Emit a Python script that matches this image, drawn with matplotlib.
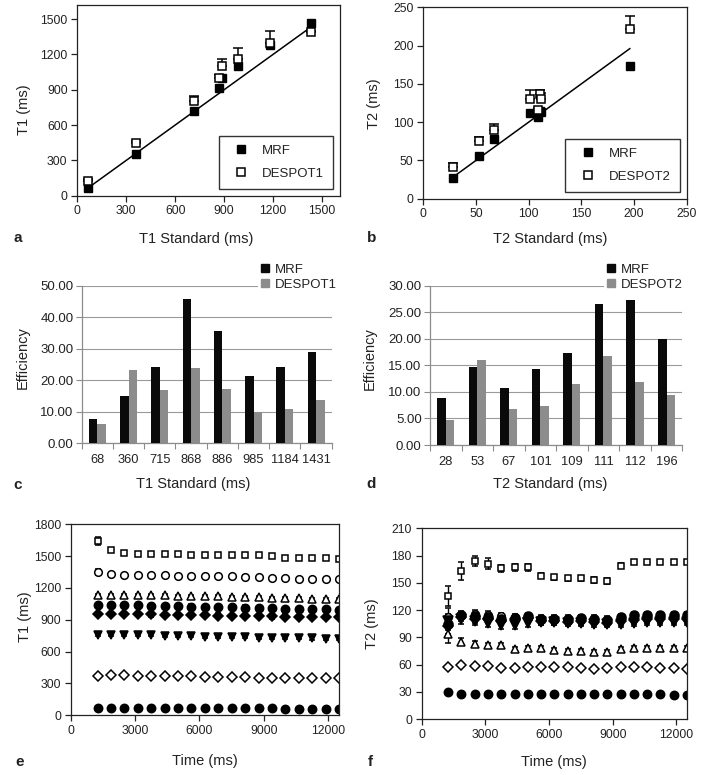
import matplotlib
matplotlib.use('Agg')
import matplotlib.pyplot as plt
from matplotlib.lines import Line2D
from matplotlib.patches import Patch
import numpy as np

plt.rcParams['font.family'] = ['Liberation Sans', 'DejaVu Sans']

W, H = 708, 775

# --- panel a / b : measured vs standard ---
t1_std = [68, 360, 715, 868, 886, 985, 1184, 1431]
t1_mrf = [65, 356, 720, 918, 1000, 1100, 1280, 1470]
t1_mrf_err = [15, 15, 15, 15, 15, 15, 15, 12]
t1_despot = [125, 450, 808, 1003, 1100, 1158, 1295, 1390]
t1_despot_err = [20, 15, 42, 25, 60, 100, 105, 10]

t2_std = [28, 53, 67, 101, 109, 111, 112, 196]
t2_mrf = [27, 56, 78, 112, 107, 115, 113, 173]
t2_mrf_err = [2, 2, 2, 2, 2, 2, 2, 2]
t2_despot = [42, 76, 90, 130, 116, 137, 130, 222]
t2_despot_err = [5, 5, 8, 12, 3, 5, 8, 16]

# --- panel c / d : efficiency ---
t1_labels = ['68', '360', '715', '868', '886', '985', '1184', '1431']
eff_t1_mrf = [7.6, 15.0, 24.2, 45.7, 35.6, 21.2, 24.3, 28.9]
eff_t1_despot = [6.2, 23.3, 16.8, 24.0, 17.2, 9.9, 10.9, 13.7]
t2_labels = ['28', '53', '67', '101', '109', '111', '112', '196']
eff_t2_mrf = [8.9, 14.6, 10.8, 14.3, 17.4, 26.5, 27.4, 19.9]
eff_t2_despot = [4.7, 16.0, 6.7, 7.4, 11.5, 16.7, 11.8, 9.5]

# --- panel e / f : estimates vs acquisition time ---
times = [1250, 1875, 2500, 3125, 3750, 4375, 5000, 5625, 6250, 6875,
         7500, 8125, 8750, 9375, 10000, 10625, 11250, 11875, 12500]

e_sq = [1645, 1555, 1525, 1520, 1520, 1520, 1518, 1515, 1515, 1515,
        1512, 1512, 1510, 1500, 1485, 1480, 1478, 1478, 1475]
e_sq_err = [40, 12, 10, 10, 10, 10, 10, 10, 10, 10,
            10, 10, 10, 10, 10, 10, 10, 10, 10]
e_oc = [1350, 1330, 1320, 1318, 1318, 1318, 1315, 1315, 1313, 1312,
        1310, 1308, 1305, 1295, 1290, 1288, 1286, 1285, 1283]
e_oc_err = [25, 10, 10, 10, 10, 10, 10, 10, 10, 10,
            10, 10, 10, 10, 10, 10, 10, 10, 10]
e_ot = [1135, 1135, 1135, 1133, 1132, 1130, 1128, 1125, 1122, 1120,
        1118, 1115, 1112, 1108, 1105, 1103, 1100, 1100, 1098]
e_fc = [1040, 1038, 1036, 1035, 1033, 1030, 1028, 1025, 1022, 1020,
        1018, 1015, 1012, 1008, 1005, 1002, 1000, 998, 995]
e_fd = [955, 955, 953, 952, 950, 948, 946, 944, 942, 940,
        938, 936, 934, 932, 930, 928, 926, 925, 924]
e_fv = [758, 758, 757, 756, 755, 752, 750, 745, 742, 740,
        738, 735, 732, 730, 728, 726, 724, 723, 722]
e_od = [375, 376, 376, 375, 374, 372, 368, 366, 364, 362,
        360, 358, 356, 354, 352, 350, 350, 349, 348]
e_fh = [72, 71, 70, 70, 69, 69, 68, 68, 67, 67,
        66, 66, 65, 65, 64, 64, 63, 63, 62]

f_sq = [135, 163, 174, 171, 166, 167, 167, 158, 156, 155,
        155, 153, 152, 169, 173, 173, 173, 173, 173]
f_sq_err = [11, 10, 6, 6, 4, 4, 4, 3, 3, 3,
            3, 3, 3, 3, 2, 2, 2, 2, 2]
f_fv = [108, 110, 108, 106, 104, 104, 106, 107, 107, 106,
        106, 105, 105, 105, 106, 107, 107, 107, 107]
f_fv_err = [14, 5, 5, 5, 5, 5, 5, 4, 4, 4,
            4, 4, 4, 4, 4, 4, 4, 4, 4]
f_fd = [102, 112, 110, 110, 108, 110, 111, 108, 108, 107,
        108, 107, 106, 108, 109, 110, 110, 110, 110]
f_fc = [105, 115, 113, 112, 110, 111, 113, 110, 110, 110,
        111, 110, 109, 112, 114, 114, 114, 114, 114]
f_oc = [112, 114, 116, 115, 113, 112, 111, 109, 109, 108,
        109, 108, 107, 111, 113, 113, 113, 113, 113]
f_ot = [94, 85, 83, 81, 81, 77, 78, 78, 76, 75,
        75, 74, 74, 77, 78, 78, 78, 78, 78]
f_ot_err = [10, 4, 3, 3, 3, 2, 2, 2, 2, 2,
            2, 2, 2, 2, 2, 2, 2, 2, 2]
f_od = [57, 59, 58, 58, 56, 56, 57, 57, 57, 57,
        56, 55, 56, 57, 57, 57, 56, 56, 55]
f_fh = [30, 28, 28, 28, 28, 28, 28, 28, 28, 28,
        28, 28, 28, 27, 27, 27, 27, 26, 26]

TXT = '#222222'
GRAY = '#8c8c8c'

fig = plt.figure(figsize=(W / 100, H / 100), dpi=100)


def add_ax(l, t, r, b):
    return fig.add_axes([l / W, 1 - b / H, (r - l) / W, (b - t) / H])


def ftext(x, y, s, **kw):
    kw.setdefault('ha', 'center')
    kw.setdefault('va', 'center')
    kw.setdefault('color', TXT)
    fig.text(x / W, 1 - y / H, s, **kw)


def box_style(ax):
    for sp in ax.spines.values():
        sp.set_linewidth(0.9)
        sp.set_color('#222222')
    ax.tick_params(direction='out', length=4, width=0.9, labelsize=8.8,
                   colors='#222222', labelcolor=TXT, pad=3)


def scatter_panel(ax, x, mrf, mrf_err, desp, desp_err, lim, ticks, lbl):
    ax.plot([x[0], x[-1]], [x[0], x[-1]], color='k', lw=1.1, zorder=1)
    ax.errorbar(x, mrf, yerr=mrf_err, fmt='s', color='k', ms=6,
                capsize=3, elinewidth=1, capthick=1.2, zorder=3)
    lo = np.zeros(len(desp))
    ax.errorbar(x, desp, yerr=[lo, desp_err], fmt='s', color='k', mfc='white',
                mec='k', mew=1.1, ms=6, capsize=3.5, elinewidth=1.1,
                capthick=1.3, zorder=4)
    ax.set_xlim(0, lim[0])
    ax.set_ylim(0, lim[1])
    ax.set_xticks(ticks)
    ax.set_yticks(ticks)
    box_style(ax)
    hs = [Line2D([], [], ls='none', marker='s', color='k', ms=6),
          Line2D([], [], ls='none', marker='s', mfc='white', mec='k', mew=1.1, ms=6)]
    leg = ax.legend(hs, ['MRF', lbl], loc='lower right', fontsize=9.5,
                    frameon=True, fancybox=False, edgecolor='k',
                    borderpad=0.7, handlelength=2.0, handletextpad=0.6,
                    labelspacing=0.8, borderaxespad=0.5)
    leg.get_frame().set_linewidth(1.0)
    for t in leg.get_texts():
        t.set_color(TXT)


# panel a
ax_a = add_ax(77.3, 4.9, 340, 195.7)
scatter_panel(ax_a, t1_std, t1_mrf, t1_mrf_err, t1_despot, t1_despot_err,
              (1610, 1620), [0, 300, 600, 900, 1200, 1500], 'DESPOT1')
ftext(196, 239, 'T1 Standard (ms)', fontsize=10.5)
ftext(24, 110, 'T1 (ms)', fontsize=10.5, rotation=90)
ftext(18, 238, 'a', fontsize=11, fontweight='bold')

# panel b
ax_b = add_ax(423.3, 7.3, 686.7, 198.7)
scatter_panel(ax_b, t2_std, t2_mrf, t2_mrf_err, t2_despot, t2_despot_err,
              (250, 250), [0, 50, 100, 150, 200, 250], 'DESPOT2')
ftext(550, 239, 'T2 Standard (ms)', fontsize=10.5)
ftext(374, 104, 'T2 (ms)', fontsize=10.5, rotation=90)
ftext(372, 238, 'b', fontsize=11, fontweight='bold')


def bar_panel(ax, labels, mrf, desp, top, step, lbl, leg_xy):
    x = np.arange(len(labels))
    w = 0.27
    ax.bar(x - w / 2, mrf, w, color='#0a0a0a', zorder=3, label='MRF')
    ax.bar(x + w / 2, desp, w, color=GRAY, zorder=3, label=lbl)
    ax.set_xlim(-0.5, len(labels) - 0.5)
    ax.set_ylim(0, top)
    ax.set_yticks(np.arange(0, top + step / 2, step))
    ax.set_yticklabels(['%.2f' % v for v in np.arange(0, top + step / 2, step)])
    ax.set_xticks(x)
    ax.set_xticklabels(labels)
    ax.set_xticks(np.arange(-0.5, len(labels)), minor=True)
    ax.tick_params(axis='x', which='major', length=0, labelsize=9.3,
                   labelcolor=TXT, pad=8)
    ax.tick_params(axis='x', which='minor', length=4, width=0.8, color=GRAY,
                   direction='out')
    ax.tick_params(axis='y', length=4, width=0.8, color=GRAY, labelsize=9.5,
                   labelcolor=TXT, pad=2)
    ax.grid(axis='y', color='#9a9a9a', lw=0.8, zorder=0)
    for s in ['top', 'right']:
        ax.spines[s].set_visible(False)
    for s in ['left', 'bottom']:
        ax.spines[s].set_color(GRAY)
        ax.spines[s].set_linewidth(0.9)
    hs = [Patch(color='#0a0a0a'), Patch(color=GRAY)]
    leg = ax.legend(hs, ['MRF', lbl], loc='upper left',
                    bbox_to_anchor=(leg_xy[0] / W, 1 - leg_xy[1] / H),
                    bbox_transform=fig.transFigure, fontsize=9.5,
                    frameon=True, edgecolor='none', framealpha=1,
                    borderpad=0.2, handlelength=0.6, handleheight=0.6,
                    handletextpad=0.5, labelspacing=0.25, borderaxespad=0)
    for t in leg.get_texts():
        t.set_color(TXT)


# panel c
ax_c = add_ax(81.7, 285.7, 331.7, 443.3)
bar_panel(ax_c, t1_labels, eff_t1_mrf, eff_t1_despot, 50, 10, 'DESPOT1', (258, 261))
ftext(193, 484, 'T1 Standard (ms)', fontsize=10.5)
ftext(23, 358, 'Efficiency', fontsize=10.5, rotation=90)
ftext(18, 485, 'c', fontsize=11, fontweight='bold')

# panel d
ax_d = add_ax(430, 285.7, 682.3, 445)
bar_panel(ax_d, t2_labels, eff_t2_mrf, eff_t2_despot, 30, 5, 'DESPOT2', (604, 261))
ftext(550, 484, 'T2 Standard (ms)', fontsize=10.5)
ftext(370, 359, 'Efficiency', fontsize=10.5, rotation=90)
ftext(371, 484, 'd', fontsize=11, fontweight='bold')


def time_panel(ax, series, ylim, ystep):
    for vals, err, mk, face, ms in series:
        ax.errorbar(times, vals, yerr=err, fmt=mk, color='k', mfc=face,
                    mec='k', mew=1.1, ms=ms, capsize=2.5, elinewidth=1,
                    capthick=1.1)
    ax.set_xlim(0, 12500)
    ax.set_ylim(0, ylim)
    ax.set_xticks([0, 3000, 6000, 9000, 12000])
    ax.set_yticks(np.arange(0, ylim + 1, ystep))
    box_style(ax)


# panel e
ax_e = add_ax(70.7, 524.3, 339, 715.3)
e_series = [
    (e_fh, 8, 'o', 'k', 6),
    (e_od, 8, 'D', 'white', 5),
    (e_fv, 10, 'v', 'k', 6),
    (e_fd, 20, 'D', 'k', 5),
    (e_fc, 20, 'o', 'k', 6),
    (e_ot, 10, '^', 'white', 5.5),
    (e_oc, e_oc_err, 'o', 'white', 5.5),
    (e_sq, e_sq_err, 's', 'white', 5),
]
time_panel(ax_e, e_series, 1800, 300)
ftext(205, 761, 'Time (ms)', fontsize=10.5)
ftext(25, 617, 'T1 (ms)', fontsize=10.5, rotation=90)
ftext(20, 762, 'e', fontsize=11, fontweight='bold')

# panel f
ax_f = add_ax(421.7, 528.3, 687, 719)
f_series = [
    (f_fh, 1.5, 'o', 'k', 6),
    (f_od, 1.5, 'D', 'white', 5),
    (f_ot, f_ot_err, '^', 'white', 5.5),
    (f_oc, 4, 'o', 'white', 5.5),
    (f_fv, f_fv_err, 'v', 'k', 6.5),
    (f_fd, 4, 'D', 'k', 5.5),
    (f_fc, 4, 'o', 'k', 6.5),
    (f_sq, f_sq_err, 's', 'white', 5),
]
time_panel(ax_f, f_series, 210, 30)
ftext(554, 762, 'Time (ms)', fontsize=10.5)
ftext(372, 624, 'T2 (ms)', fontsize=10.5, rotation=90)
ftext(370, 762, 'f', fontsize=11, fontweight='bold')

fig.savefig('out.png', dpi=100)
